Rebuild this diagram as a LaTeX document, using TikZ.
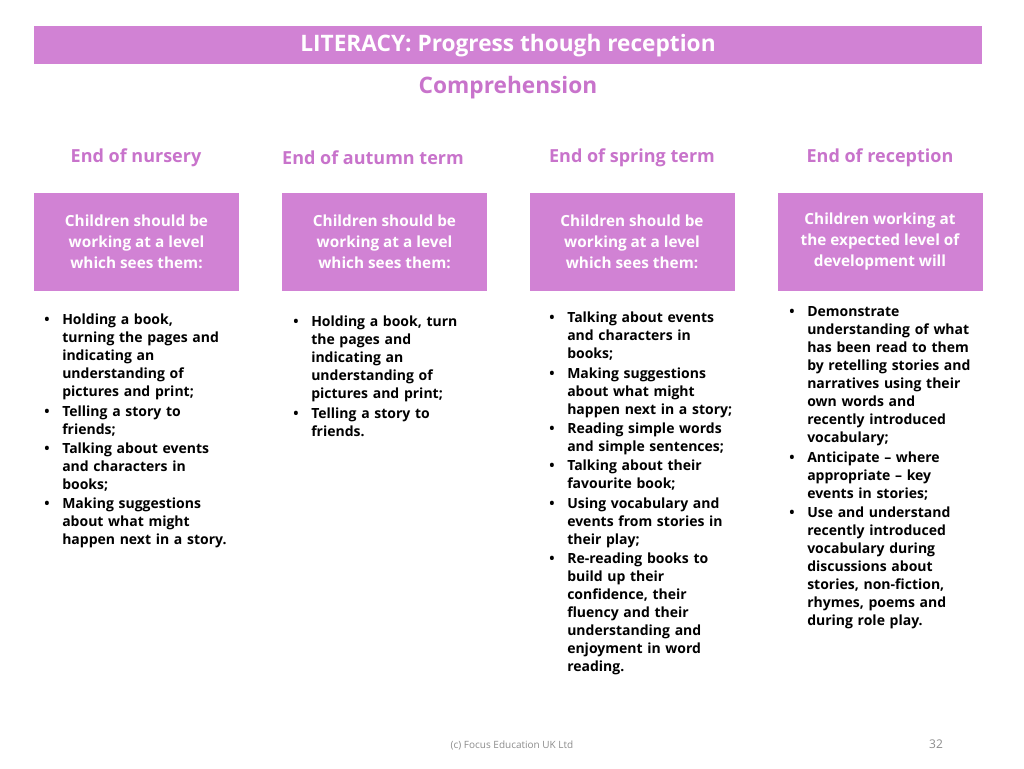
\documentclass[tikz,border=0pt]{standalone}
\usepackage{fontspec}
\setmainfont{Open Sans}
\definecolor{banner}{HTML}{D182D4}
\definecolor{headpink}{HTML}{C873CB}
\definecolor{footgrey}{HTML}{8C8C8C}
\newcommand\bul[1]{\noindent\makebox[13.5pt][l]{\textbullet}\begin{tabular}[t]{@{}l@{}}#1\end{tabular}\par}
\tikzset{
  colhead/.style={text=headpink, font=\fontsize{13.5}{16}\selectfont\bfseries},
  stagebox/.style={fill=banner, draw=none, minimum width=153.75pt, minimum height=73.5pt, text=white, align=center, font=\fontsize{11.5}{15.75}\selectfont\bfseries},
  bullist/.style={anchor=north west, inner sep=0pt, text width=160pt, font=\fontsize{10.5}{13.5}\selectfont\bfseries}
}
\begin{document}
\begin{tikzpicture}[x=0.75pt, y=-0.75pt]
  \useasboundingbox (0,0) rectangle (1024,768);
  % banner
  \fill[banner] (34,26) rectangle (982,64);
  \node[text=white, font=\fontsize{17}{20}\selectfont\bfseries] (title) at (508,46) {LITERACY: Progress though reception};
  \node[colhead, font=\fontsize{17}{20}\selectfont\bfseries] (sub) at (508,88) {Comprehension};
  % column headings
  \node[colhead] (h1) at (136,158) {End of nursery};
  \node[colhead] (h2) at (373,158) {End of autumn term};
  \node[colhead] (h3) at (632,158) {End of spring term};
  \node[colhead] (h4) at (880,158) {End of reception};
  % boxes
  \node[stagebox] (b1) at (136.5,242) {Children should be\\working at a level\\which sees them:};
  \node[stagebox] (b2) at (384.5,242) {Children should be\\working at a level\\which sees them:};
  \node[stagebox] (b3) at (632,242) {Children should be\\working at a level\\which sees them:};
  \node[stagebox] (b4) at (880,242) {Children working at\\the expected level of\\development will};
  % lists
  \node[bullist] (l1) at (44,312) {%
    \bul{Holding a book,\\turning the pages and\\indicating an\\understanding of\\pictures and print;}
    \bul{Telling a story to\\friends;}
    \bul{Talking about events\\and characters in\\books;}
    \bul{Making suggestions\\about what might\\happen next in a story.}};
  \node[bullist] (l2) at (293,314) {%
    \bul{Holding a book, turn\\the pages and\\indicating an\\understanding of\\pictures and print;}
    \bul{Telling a story to\\friends.}};
  \node[bullist] (l3) at (549,310) {%
    \bul{Talking about events\\and characters in\\books;}
    \bul{Making suggestions\\about what might\\happen next in a story;}
    \bul{Reading simple words\\and simple sentences;}
    \bul{Talking about their\\favourite book;}
    \bul{Using vocabulary and\\events from stories in\\their play;}
    \bul{Re-reading books to\\build up their\\confidence, their\\fluency and their\\understanding and\\enjoyment in word\\reading.}};
  \node[bullist] (l4) at (789,304) {%
    \bul{Demonstrate\\understanding of what\\has been read to them\\by retelling stories and\\narratives using their\\own words and\\recently introduced\\vocabulary;}
    \bul{Anticipate -- where\\appropriate -- key\\events in stories;}
    \bul{Use and understand\\recently introduced\\vocabulary during\\discussions about\\stories, non-fiction,\\rhymes, poems and\\during role play.}};
  % footer
  \node[text=footgrey, font=\fontsize{7.5}{9}\selectfont] (foot) at (512,745) {(c) Focus Education UK Ltd};
  \node[text=footgrey, font=\fontsize{9}{11}\selectfont] (page) at (936,744) {32};
\end{tikzpicture}
\end{document}
